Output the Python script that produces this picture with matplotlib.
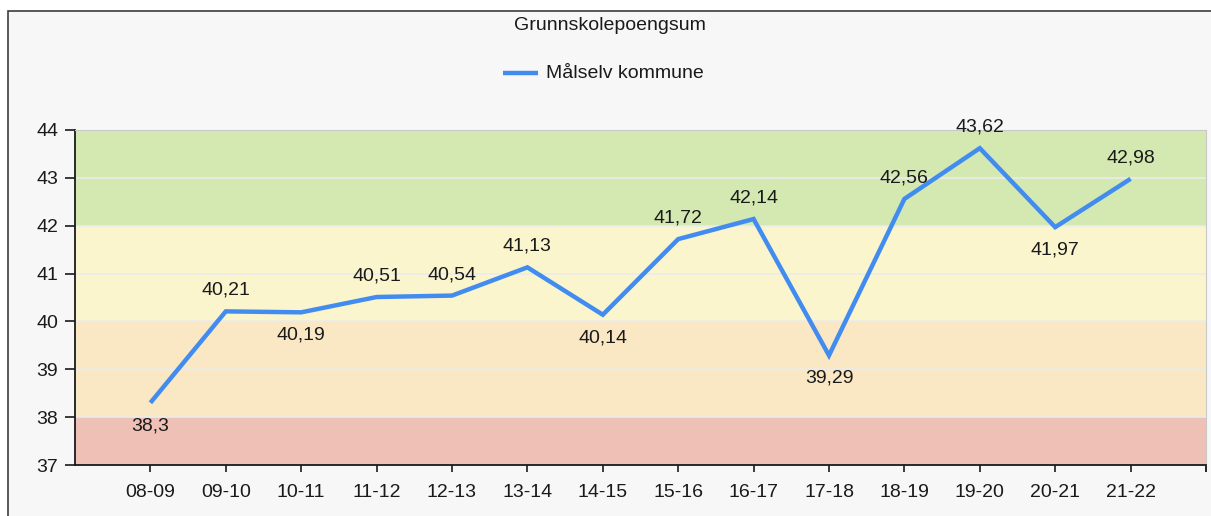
import matplotlib.pyplot as plt
import matplotlib.patches as patches
import numpy as np

# Data
seasons = ["08-09", "09-10", "10-11", "11-12", "12-13", "13-14", "14-15",
           "15-16", "16-17", "17-18", "18-19", "19-20", "20-21", "21-22"]
points = [38.3, 40.21, 40.19, 40.51, 40.54, 41.13, 40.14,
          41.72, 42.14, 39.29, 42.56, 43.62, 41.97, 42.98]
# label placement: 1 above, -1 below
label_side = [-1, 1, -1, 1, 1, 1, -1, 1, 1, -1, 1, 1, -1, 1]

# background bands (lower, upper, colour)
band_lo = [37, 38, 40, 42]
band_hi = [38, 40, 42, 44]
band_colours = ["#efc0b5", "#fae8c4", "#faf5cd", "#d4e8b2"]

plt.rcParams['font.family'] = ['Liberation Sans', 'DejaVu Sans']
FS = 14

fig = plt.figure(figsize=(12.11, 5.16), dpi=100)
fig.patch.set_facecolor("white")

# outer panel border (cut off at right and bottom like the screenshot)
panel = patches.Rectangle((8/1211, -0.1), 1.2, 1 - 11/516 + 0.1,
                          transform=fig.transFigure, facecolor="#f7f7f7",
                          edgecolor="#3c3c3c", linewidth=1.2, zorder=-10)
fig.patches.append(panel)

ax = fig.add_axes([75/1211, 51/516, 1131/1211, 335/516])
ax.set_facecolor("none")

x = np.arange(len(seasons))
for lo, hi, c in zip(band_lo, band_hi, band_colours):
    ax.axhspan(lo, hi, color=c, zorder=0, linewidth=0)

for yv in range(38, 44):
    ax.axhline(yv, color="#ebebeb", linewidth=1.2, zorder=1)

ax.plot(x, points, color="#428cf0", linewidth=3.2, solid_capstyle="butt",
        solid_joinstyle="miter", zorder=3)

for xi, yi, side in zip(x, points, label_side):
    txt = f"{yi:g}".replace(".", ",")
    off = 21 if side > 0 else -23
    ax.annotate(txt, (xi, yi), xytext=(0, off), textcoords="offset pixels",
                ha="center", va="center", fontsize=FS, color="#1a1a1a", zorder=4)

ax.set_xlim(-1, 14)
ax.set_ylim(37, 44)
ax.set_xticks(x)
ax.set_xticklabels(seasons)
ax.set_xticks([14], minor=True)
ax.set_yticks(range(37, 45))

ax.tick_params(axis="both", labelsize=FS, colors="#1a1a1a", width=1.2)
ax.tick_params(axis="x", length=5, pad=9)
ax.tick_params(axis="x", which="minor", length=5, width=1.2)
ax.tick_params(axis="y", length=7, pad=5)

ax.spines["left"].set_color("#1a1a1a")
ax.spines["bottom"].set_color("#1a1a1a")
ax.spines["left"].set_linewidth(1.3)
ax.spines["bottom"].set_linewidth(1.3)
ax.spines["top"].set_color("#c8c8c8")
ax.spines["right"].set_color("#c8c8c8")

fig.text(610/1211, 1 - 25/516, "Grunnskolepoengsum", ha="center", va="center",
         fontsize=FS, color="#1a1a1a")

# legend entry
fig.add_artist(plt.Line2D([503/1211, 538/1211], [1 - 73/516, 1 - 73/516],
                          color="#428cf0", linewidth=3.2, solid_capstyle="butt"))
fig.text(546/1211, 1 - 73/516, "Målselv kommune", ha="left", va="center",
         fontsize=FS, color="#1a1a1a")

fig.savefig("out.png", dpi=100)
